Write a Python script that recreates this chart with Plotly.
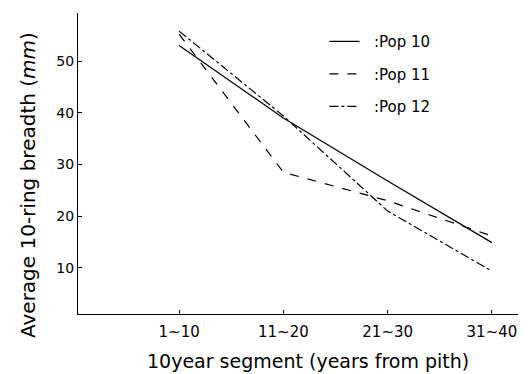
import plotly.graph_objects as go

segments = ["1~10", "11~20", "21~30", "31~40"]
pop10 = [53.0, 39.0, 26.8, 14.9]
pop11 = [55.2, 28.5, 23.0, 16.2]
pop12 = [55.8, 39.4, 21.0, 9.4]
y_ticks = [10, 20, 30, 40, 50]

fig = go.Figure()
styles = [(":Pop 10", pop10, "solid"), (":Pop 11", pop11, "dash"), (":Pop 12", pop12, "dashdot")]
for i, (name, vals, dash) in enumerate(styles):
    fig.add_trace(go.Scatter(
        x=list(range(len(segments))), y=vals, mode="lines", name="\u00a0\u00a0" + name,
        line=dict(color="black", width=1.2, dash=dash),
        legendgroup=f"g{i}",
    ))

font = "DejaVu Sans"
fig.update_layout(
    width=529, height=374,
    margin=dict(l=78, r=11, t=13, b=60),
    paper_bgcolor="white", plot_bgcolor="white",
    font=dict(family=font, size=14, color="black"),
    showlegend=True,
    legend=dict(x=0.56, y=0.96, xanchor="left", yanchor="top",
                bgcolor="rgba(0,0,0,0)", font=dict(size=15, family=font),
                tracegroupgap=10, traceorder="grouped", itemwidth=30),
    xaxis=dict(
        range=[-0.97, 3.25], tickmode="array",
        tickvals=list(range(len(segments))), ticktext=segments,
        showline=True, linecolor="black", linewidth=1,
        ticks="inside", ticklen=4, tickcolor="black",
        showgrid=False, zeroline=False,
        tickfont=dict(size=15), ticklabelstandoff=4,
    ),
    yaxis=dict(
        range=[1.1, 59.3], tickmode="array", tickvals=y_ticks,
        ticktext=[str(v) for v in y_ticks],
        showline=True, linecolor="black", linewidth=1,
        ticks="inside", ticklen=4, tickcolor="black",
        showgrid=False, zeroline=False,
        tickfont=dict(size=14),
    ),
    annotations=[
        dict(text="10year segment (years from pith)", xref="paper", yref="paper",
             x=0.5227, y=-0.156, xanchor="center", yanchor="middle",
             showarrow=False, font=dict(size=19)),
        dict(text="Average 10-ring breadth (<i>mm</i>)", xref="paper", yref="paper",
             x=-0.1136, y=0.4286, xanchor="center", yanchor="middle",
             textangle=-90, showarrow=False, font=dict(size=20)),
    ],
)

fig.write_html("out.html")
